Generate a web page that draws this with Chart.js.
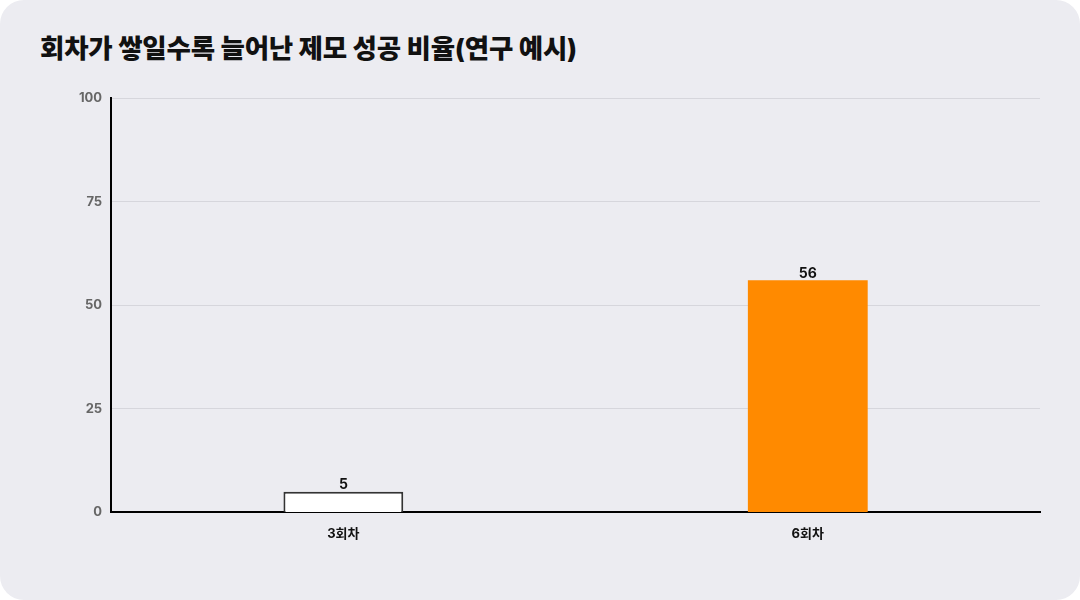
<!DOCTYPE html>
<html lang="ko">
<head>
<meta charset="utf-8">
<script src="https://cdn.jsdelivr.net/npm/chart.js@4.4.0/dist/chart.umd.min.js"></script>
<style>
    html, body { margin: 0; padding: 0; background: #ffffff; }
    .card {
        position: absolute; left: 0; top: 0; width: 1080px; height: 600px;
        background: #ececf1; border-radius: 24px; overflow: hidden;
    }
    h1 {
        position: absolute; left: 40px; top: 27px; margin: 0;
        font-family: 'Inter', 'Noto Sans CJK KR', sans-serif;
        font-weight: 800; font-size: 26.5px; color: #111; letter-spacing: -0.2px;
    }
    .wrap { position: absolute; left: 0; top: 80px; width: 1080px; height: 468px; }
</style>
</head>
<body>
<div class="card">
    <h1>회차가 쌓일수록 늘어난 제모 성공 비율(연구 예시)</h1>
    <div class="wrap"><canvas id="chart"></canvas></div>
</div>
<script>
// ── Data ──
const categories = ['3회차', '6회차'];
const successRate = [5, 56];
const barFills = ['#ffffff', '#ff8a00'];
const barBorders = ['#333333', '#ff8a00'];
const yTicks = [0, 25, 50, 75, 100];

const FONT = "'Inter', 'Noto Sans CJK KR', sans-serif";

// ── Value labels above bars ──
const valueLabels = {
    id: 'valueLabels',
    afterDatasetsDraw(chart) {
        const { ctx } = chart;
        const meta = chart.getDatasetMeta(0);
        ctx.save();
        ctx.font = `700 14px ${FONT}`;
        ctx.fillStyle = '#111';
        ctx.textAlign = 'center';
        ctx.textBaseline = 'bottom';
        meta.data.forEach((bar, i) => {
            ctx.fillText(successRate[i], bar.x, bar.y);
        });
        ctx.restore();
    }
};

new Chart(document.getElementById('chart'), {
    type: 'bar',
    data: {
        labels: categories,
        datasets: [{
            data: successRate,
            backgroundColor: barFills,
            borderColor: barBorders,
            borderWidth: [2, 0],
            barPercentage: 0.258,
            categoryPercentage: 1,
        }]
    },
    options: {
        responsive: true,
        maintainAspectRatio: false,
        animation: false,
        layout: { padding: { left: 70, right: 40, top: 18, bottom: 0 } },
        plugins: {
            legend: { display: false },
            tooltip: { enabled: false },
        },
        scales: {
            x: {
                grid: { display: false },
                border: { color: '#000', width: 2 },
                ticks: {
                    color: '#111',
                    padding: 6,
                    font: { family: FONT, size: 13, weight: '700' }
                }
            },
            y: {
                min: 0,
                max: 100,
                afterBuildTicks: axis => { axis.ticks = yTicks.map(v => ({ value: v })); },
                grid: { color: '#d6d6dc', drawTicks: false },
                border: { color: '#000', width: 2 },
                ticks: {
                    color: '#666',
                    padding: 9,
                    font: { family: FONT, size: 13, weight: '700' }
                }
            }
        }
    },
    plugins: [valueLabels]
});
</script>
</body>
</html>
